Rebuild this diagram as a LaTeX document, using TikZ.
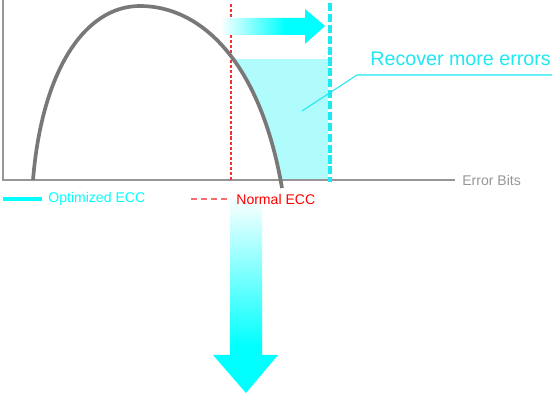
\documentclass[tikz,border=0pt]{standalone}
\usepackage{fontspec}
\setmainfont{Liberation Sans}
\usetikzlibrary{positioning, calc}
\definecolor{ecccyan}{RGB}{0,255,255}
\definecolor{ecclight}{RGB}{176,252,252}
\definecolor{eccdash}{RGB}{30,232,240}
\definecolor{eccred}{RGB}{240,50,50}
\definecolor{axisgray}{RGB}{150,150,150}
\definecolor{curvegray}{RGB}{120,120,120}
\pgfdeclarehorizontalshading{faderight}{100bp}{rgb(0bp)=(1,1,1); rgb(25bp)=(1,1,1); rgb(56bp)=(0,1,1); rgb(100bp)=(0,1,1)}
\pgfdeclareverticalshading{fadedown}{100bp}{rgb(0bp)=(0,1,1); rgb(37bp)=(0,1,1); rgb(73bp)=(0.92,1,1); rgb(100bp)=(0.92,1,1)}
\tikzset{
        axis-line/.style={draw=axisgray, line width=0.8pt},
        err-curve/.style={draw=curvegray, line width=2.1pt},
        normal-ecc/.style={draw=eccred, line width=0.7pt, dash pattern=on 1.8pt off 1.1pt},
        optimized-ecc/.style={draw=eccdash, line width=2.3pt, dash pattern=on 4.6pt off 1.6pt},
        legend-text/.style={font=\fontsize{8}{9}\selectfont, inner sep=0pt, anchor=west},
}
\newcommand\errcurve{(33,180) .. controls (42,70) and (85,6) .. (140,6) .. controls (200,6) and (260,60) .. (282,188)}

\begin{document}
\begin{tikzpicture}[x=0.02cm, y=-0.02cm]
        \useasboundingbox (0,0) rectangle (552,394);

        %REGION RECOVERED BY THE OPTIMIZED ECC
        \fill [ecclight] (231,59) rectangle (328,180);
        \fill [white] \errcurve -- cycle;

        %AXES
        \coordinate (origin) at (3,180);
        \coordinate (ytop)   at (3,0);
        \coordinate (xend)   at (455,180);
        \draw [axis-line] (ytop) -- (origin) -- (xend);
        \node [legend-text, text=axisgray] (XLABEL) at (462,180) {Error Bits};

        %THRESHOLDS
        \coordinate (normaltop)    at (231,4);
        \coordinate (normalbot)    at (231,180);
        \coordinate (optimizedtop) at (330,3);
        \coordinate (optimizedbot) at (330,182);
        \draw [normal-ecc]    (normaltop) -- (normalbot);
        \draw [optimized-ecc] (optimizedtop) -- (optimizedbot);

        %ERROR DISTRIBUTION
        \draw [err-curve] \errcurve;

        %SHIFT ARROW
        \shade [shading=faderight] (220,18) -- (305,18) -- (305,9) -- (325,26)
                -- (305,44) -- (305,35) -- (220,35) -- cycle;

        %CALLOUT
        \node [font=\fontsize{11.2}{13}\selectfont, text=eccdash, inner sep=0pt, anchor=base west]
                (RECOVER) at (370,66) {Recover more errors};
        \coordinate (inside) at (302,111);
        \coordinate (bend)   at (357,75);
        \coordinate (tail)   at (552,75);
        \draw [eccdash, line width=0.6pt] (inside) -- (bend) -- (tail);

        %LEGEND
        \coordinate (optA) at (3,199);
        \coordinate (optB) at (42,199);
        \node [legend-text, text=ecccyan] (OPT) at (48,199) {Optimized ECC};
        \draw [ecccyan, line width=2.2pt] (optA) -- (optB);

        %DOWN ARROW
        \shade [shading=fadedown] (230,201) -- (262,201) -- (262,355) -- (278,355)
                -- (246,393) -- (213,355) -- (230,355) -- cycle;

        \coordinate (norA) at (191,199);
        \coordinate (norB) at (230,199);
        \draw [eccred!70, line width=0.9pt, dash pattern=on 3.4pt off 2.3pt] (norA) -- (norB);
        \node [legend-text, text=red] (NOR) at (236,199) {Normal ECC};

\end{tikzpicture}
\end{document}
